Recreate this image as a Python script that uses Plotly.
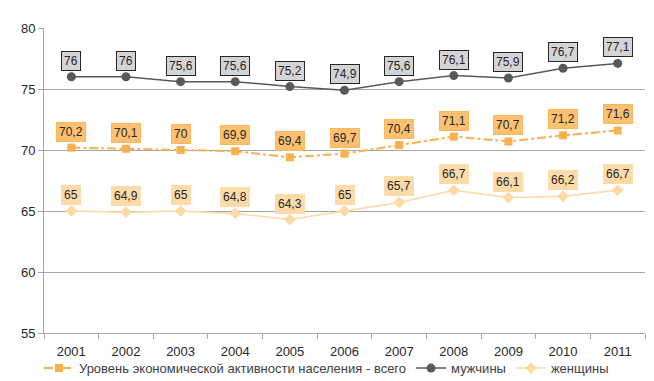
import plotly.graph_objects as go

YEARS = ["2001", "2002", "2003", "2004", "2005", "2006", "2007", "2008", "2009", "2010", "2011"]
TOTAL = [70.2, 70.1, 70.0, 69.9, 69.4, 69.7, 70.4, 71.1, 70.7, 71.2, 71.6]
MEN = [76.0, 76.0, 75.6, 75.6, 75.2, 74.9, 75.6, 76.1, 75.9, 76.7, 77.1]
WOMEN = [65.0, 64.9, 65.0, 64.8, 64.3, 65.0, 65.7, 66.7, 66.1, 66.2, 66.7]

ORANGE = "#F9B04E"
ORANGE_BOX = "#FBC170"
PEACH = "#FDD9A4"
PEACH_BOX = "#FDDBA9"
DARK = "#595959"
GREY_BOX = "#D4D4D4"
GRID = "#A6A6A6"
TEXT = "#262626"


def fmt(v):
    s = f"{v:.1f}".replace(".", ",")
    return s[:-2] if s.endswith(",0") else s


fig = go.Figure()
fig.add_scatter(
    x=YEARS, y=TOTAL, name="Уровень экономической активности населения - всего",
    mode="lines+markers", line=dict(color=ORANGE, width=2, dash="dashdot"),
    marker=dict(symbol="square", size=8, color=ORANGE),
)
fig.add_scatter(
    x=YEARS, y=MEN, name="мужчины", mode="lines+markers",
    line=dict(color=DARK, width=1.5), marker=dict(symbol="circle", size=9, color=DARK),
)
fig.add_scatter(
    x=YEARS, y=WOMEN, name="женщины", mode="lines+markers",
    line=dict(color=PEACH, width=1.5), marker=dict(symbol="diamond", size=9, color=PEACH),
)

for series, bg, border in [(MEN, GREY_BOX, "#262626"), (TOTAL, ORANGE_BOX, "#F9B75E"), (WOMEN, PEACH_BOX, PEACH_BOX)]:
    for i, v in enumerate(series):
        fig.add_annotation(
            x=i, y=v, text=fmt(v), showarrow=False, yanchor="bottom", yshift=6,
            bgcolor=bg, bordercolor=border, borderwidth=1, borderpad=2,
            font=dict(size=12, color=TEXT),
        )

# caption cut by the top edge of the picture
fig.add_annotation(
    x=1, y=1, xref="paper", yref="paper", xanchor="right", yanchor="bottom",
    yshift=25, xshift=-6, text="в процентах", showarrow=False,
    font=dict(size=13, color=TEXT),
)

# the page body adds an 8px offset, so margins are 8px smaller on top/left
fig.update_layout(
    width=654, height=381,
    margin=dict(l=36, r=17, t=20, b=56, autoexpand=False),
    paper_bgcolor="white", plot_bgcolor="white",
    font=dict(family="Liberation Sans, Arial, sans-serif", color=TEXT, size=13),
    showlegend=True,
    legend=dict(orientation="h", x=0.47, xanchor="center", y=-0.066, yanchor="top",
                bgcolor="rgba(0,0,0,0)",
                font=dict(size=13, color="#404040"), tracegroupgap=0),
)
fig.update_xaxes(
    type="category", range=[-0.5, len(YEARS) - 0.5], autorange=False,
    showgrid=False, showline=True, linecolor=GRID, linewidth=1,
    ticks="outside", tickson="boundaries", ticklen=5, tickcolor=GRID,
    ticklabelstandoff=6, tickfont=dict(size=13),
)
fig.update_yaxes(
    range=[55, 80], dtick=5, showgrid=True, gridcolor=GRID, gridwidth=1,
    showline=True, linecolor=GRID, ticks="outside", ticklen=5, tickcolor=GRID,
    zeroline=False, tickfont=dict(size=13),
)

fig.write_html("out.html")
